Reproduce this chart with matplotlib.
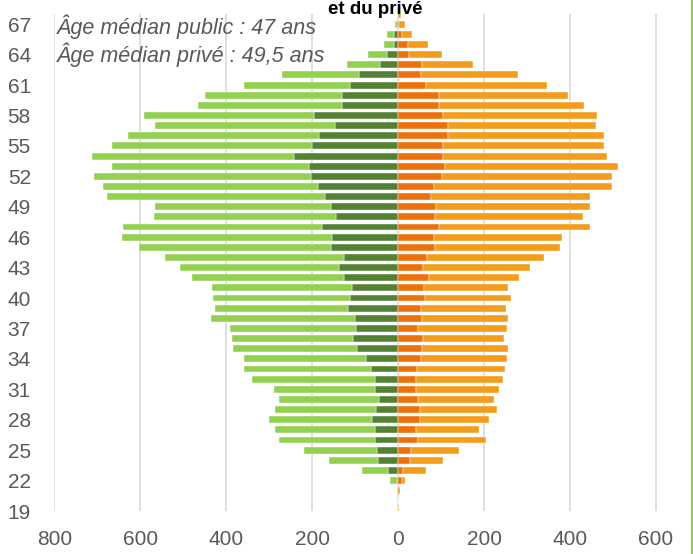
"""
Pyramide des âges public / privé (barres empilées horizontales)
"""

import numpy as np
import matplotlib
matplotlib.use('Agg')
import matplotlib.pyplot as plt

plt.rcParams['font.family'] = ['Liberation Sans', 'DejaVu Sans']

# Ages de 19 à 68 ans
ages = list(range(19, 69))

# Public : partie foncée (près de l'axe) et partie claire (empilée)
public_fonce = [0, 0, 0, 2, 24, 47, 50, 54, 55, 61,
                52, 45, 55, 55, 64, 75, 95, 105, 99, 101,
                116, 113, 108, 126, 138, 127, 157, 154, 178, 144,
                157, 171, 187, 203, 208, 242, 200, 185, 147, 195,
                130, 131, 113, 92, 43, 27, 9, 9, 2, 0]
public_clair = [0, 0, 3, 17, 61, 113, 169, 223, 231, 240,
                234, 233, 233, 286, 295, 284, 289, 282, 292, 334,
                311, 318, 325, 355, 370, 416, 446, 488, 462, 425,
                410, 506, 500, 506, 458, 471, 466, 444, 420, 396,
                337, 319, 246, 179, 77, 43, 24, 17, 6, 0]

# Privé : partie foncée et partie claire
prive_fonce = [0, 0, 0, 9, 11, 28, 30, 47, 42, 50,
               50, 47, 42, 42, 43, 53, 55, 58, 47, 55,
               53, 62, 60, 72, 57, 67, 85, 83, 94, 85,
               88, 77, 83, 102, 109, 105, 105, 116, 116, 105,
               94, 94, 65, 53, 55, 26, 22, 9, 1, 0]
prive_clair = [1, 0, 5, 6, 53, 77, 112, 158, 145, 161,
               181, 175, 192, 201, 205, 201, 201, 188, 206, 201,
               197, 201, 196, 209, 249, 273, 292, 297, 353, 345,
               359, 370, 414, 395, 402, 382, 373, 363, 344, 357,
               339, 301, 282, 225, 118, 77, 48, 22, 15, 6]

x_ticks = [-800, -600, -400, -200, 0, 200, 400, 600]
y_ticks = list(range(19, 68, 3))

VERT_FONCE = '#548235'
VERT_CLAIR = '#92D050'
ORANGE_FONCE = '#ED7009'
ORANGE_CLAIR = '#F49C1C'
GRIS_TEXTE = '#595959'


def generer_pyramide(output_path):
    fig = plt.figure(figsize=(6.93, 5.54), dpi=100)
    ax = fig.add_axes([0.0786, 0.0776, 0.9214, 0.897])

    h = 0.68
    pf = -np.array(public_fonce)
    pc = -np.array(public_clair)
    ax.barh(ages, pf, height=h, color=VERT_FONCE, edgecolor='white', linewidth=0.3, zorder=3)
    ax.barh(ages, pc, left=pf, height=h, color=VERT_CLAIR, edgecolor='white', linewidth=0.3, zorder=3)
    ax.barh(ages, prive_fonce, height=h, color=ORANGE_FONCE, edgecolor='white', linewidth=0.3, zorder=3)
    ax.barh(ages, prive_clair, left=prive_fonce, height=h, color=ORANGE_CLAIR,
            edgecolor='white', linewidth=0.3, zorder=3)

    ax.set_xlim(-800, 686)
    ax.set_ylim(19, 68)
    ax.set_xticks(x_ticks)
    ax.set_xticklabels([str(abs(v)) for v in x_ticks])
    ax.set_yticks(y_ticks)
    ax.set_yticklabels([str(v) for v in y_ticks])
    ax.tick_params(length=0, labelsize=15, colors=GRIS_TEXTE)
    ax.tick_params(axis='y', pad=17)
    ax.tick_params(axis='x', pad=14)

    ax.grid(True, axis='x', color='#D9D9D9', linewidth=1.2, zorder=0)
    ax.grid(False, axis='y')
    for spine in ax.spines.values():
        spine.set_visible(False)

    # Annotations des âges médians
    fig.text(57 / 693, 1 - 27 / 554, 'Âge médian public : 47 ans', fontsize=15.5,
             style='italic', color=GRIS_TEXTE, va='center', ha='left')
    fig.text(57 / 693, 1 - 55 / 554, 'Âge médian privé : 49,5 ans', fontsize=15.5,
             style='italic', color=GRIS_TEXTE, va='center', ha='left')

    # Fin du titre (la première ligne est hors cadre)
    fig.text(375 / 693, 0.999, 'et du privé', fontsize=13.5, weight='bold',
             color='black', ha='center', va='top')

    # Bordure verte à droite
    fig.add_artist(plt.Line2D([692 / 693, 692 / 693], [0, 1], color=VERT_CLAIR,
                              linewidth=1.6, transform=fig.transFigure))

    plt.savefig(output_path, dpi=100)
    plt.close()


if __name__ == "__main__":
    generer_pyramide('out.png')
